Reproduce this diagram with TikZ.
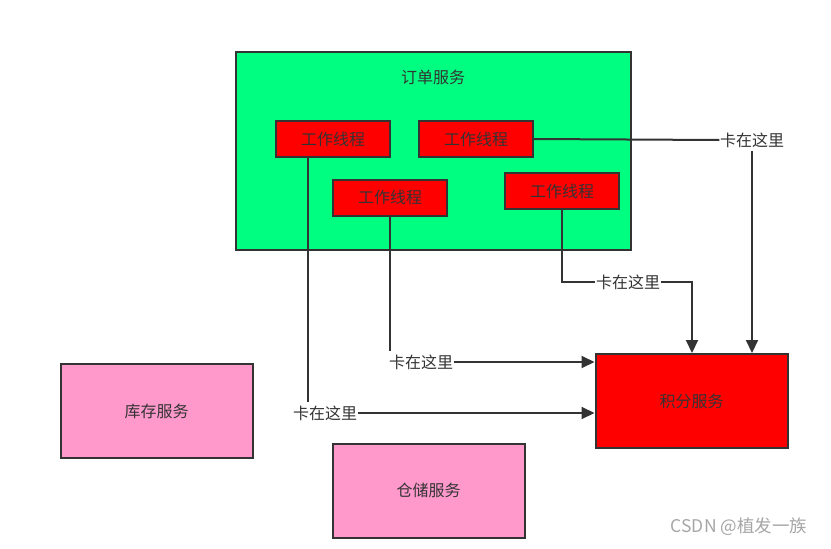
\documentclass[tikz,border=0pt]{standalone}
\usepackage{fontspec}
\setmainfont{Noto Sans CJK SC}
\usetikzlibrary{arrows.meta}
\definecolor{ordergreen}{HTML}{00FF80}
\definecolor{threadred}{HTML}{FF0000}
\definecolor{svcpink}{HTML}{FF99CC}
\definecolor{linegray}{HTML}{333333}

\begin{document}
\begin{tikzpicture}[x=1pt,y=-1pt,
    every node/.style={text=linegray,font=\fontsize{16}{19}\selectfont},
    svcbox/.style={draw=linegray,line width=2pt,minimum width=192pt,minimum height=94pt,inner sep=0pt},
    threadbox/.style={draw=linegray,fill=threadred,line width=2pt,minimum width=114pt,minimum height=36pt,inner sep=0pt},
    stuck/.style={inner xsep=0.5pt,inner ysep=3pt},
    link/.style={draw=linegray,line width=2pt},
    arrowlink/.style={link,-{Triangle[length=13pt,width=12pt]}}]
  \useasboundingbox (0,0) rectangle (831,549);
  % order service with its worker threads
  \node[draw=linegray,fill=ordergreen,line width=2pt,minimum width=395pt,minimum height=198pt] (order) at (433.5,151) {};
  \node (ordertitle) at (433,77) {订单服务};
  \node[threadbox] (t1) at (333,139) {工作线程};
  \node[threadbox] (t2) at (476,139) {工作线程};
  \node[threadbox] (t3) at (390,197.5) {工作线程};
  \node[threadbox] (t4) at (562,191) {工作线程};
  % other services
  \node[svcbox,fill=threadred] (points) at (691.5,401) {积分服务};
  \node[svcbox,fill=svcpink] (stock) at (156.5,411) {库存服务};
  \node[svcbox,fill=svcpink] (storage) at (428.5,490.5) {仓储服务};
  % where the calls get stuck
  \node[stuck] (s2) at (752,140) {卡在这里};
  \node[stuck] (s4) at (628,282) {卡在这里};
  \node[stuck] (s3) at (421,362) {卡在这里};
  \node[stuck] (s1) at (325,413) {卡在这里};
  \draw[link] (t2.east) -- (s2.west);
  \draw[arrowlink] (s2.south) -- (s2.south |- points.north);
  \draw[link] (t4.south) |- (s4.west);
  \draw[arrowlink] (s4.east) -| ([xshift=0.5pt]points.north);
  \draw[link] (t3.south) -- (t3.south |- s3.north);
  \draw[arrowlink] (s3.east) -- (s3.east -| points.west);
  \draw[link] ([xshift=-25pt]t1.south) -- ([xshift=-25pt]t1.south |- s1.north);
  \draw[arrowlink] (s1.east) -- (s1.east -| points.west);
  % watermark
  \node[text=gray!70,font=\fontsize{17.5}{21}\selectfont] (mark) at (739,527) {CSDN @植发一族};
\end{tikzpicture}
\end{document}
